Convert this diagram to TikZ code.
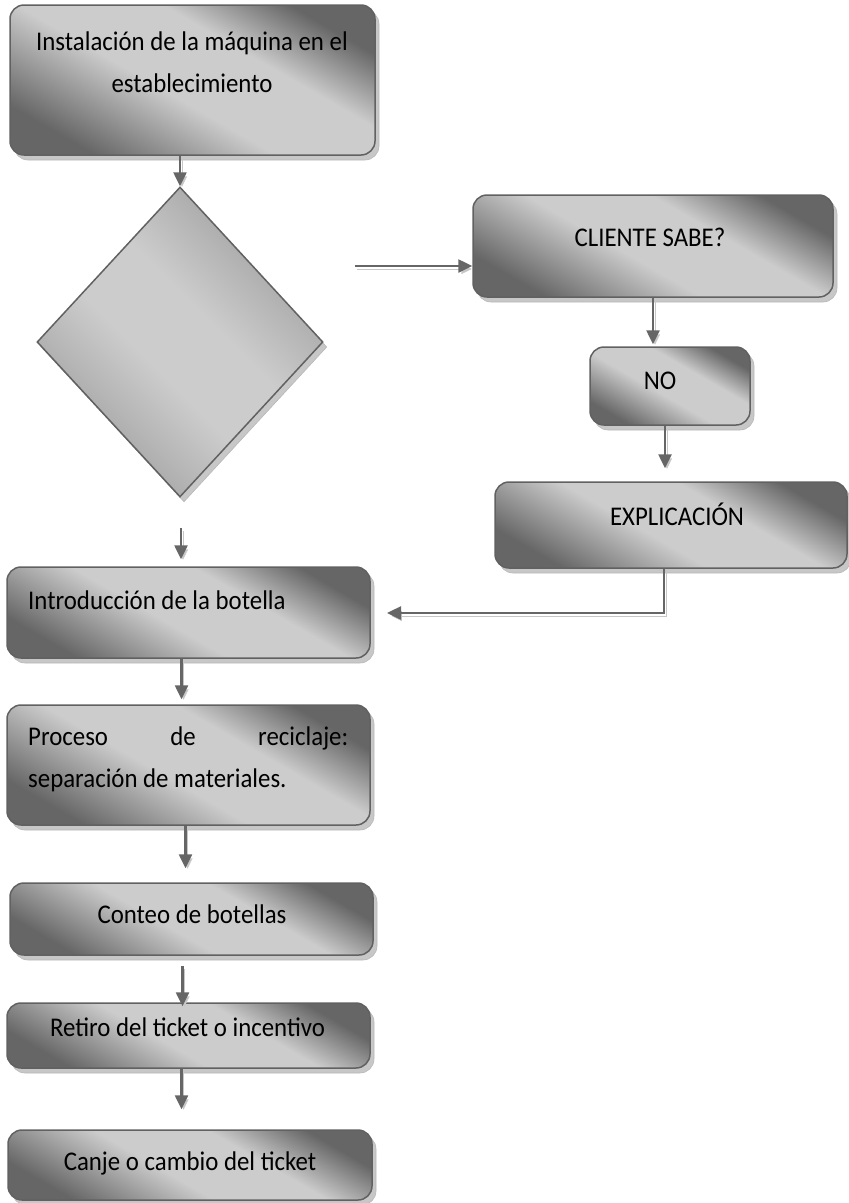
\documentclass[tikz,border=0pt]{standalone}
\usepackage{fontspec}
\setmainfont{Carlito}[FakeStretch=0.92]
\usetikzlibrary{shapes.geometric,arrows.meta,shadows}

\definecolor{boxdark}{gray}{0.40}
\definecolor{boxlight}{gray}{0.80}
\definecolor{diadark}{gray}{0.62}
\definecolor{edgegray}{gray}{0.38}

% diagonal bands: dark corners, broad light middle
\pgfdeclarehorizontalshading{boxshade}{100bp}{color(0bp)=(boxdark); color(25bp)=(boxdark);
  color(45bp)=(boxlight); color(61bp)=(boxlight); color(75bp)=(boxdark); color(100bp)=(boxdark)}
\pgfdeclarehorizontalshading{diashade}{100bp}{color(0bp)=(diadark); color(25bp)=(diadark);
  color(44bp)=(boxlight); color(56bp)=(boxlight); color(75bp)=(diadark); color(100bp)=(diadark)}

\tikzset{
  boxshadow/.style={general shadow={fill=black!22, draw=black!28, line width=0.6pt, shadow xshift=4pt, shadow yshift=-5pt}},
  stepbox/.style={draw=edgegray, line width=1.5pt, rounded corners=14pt,
    shade, shading=boxshade, shading angle=60, inner sep=0pt, boxshadow},
  decision/.style={shape=diamond, draw=edgegray, line width=1.5pt,
    shade, shading=diashade, shading angle=45, inner sep=0pt, boxshadow},
  boxtext/.style={font=\fontsize{27}{42}\selectfont, inner sep=0pt, text=black},
  flow/.style={draw=black!60, line width=2.5pt, -{Triangle[length=14pt,width=13pt]},
    preaction={draw=black!22, transform canvas={xshift=2pt,yshift=-3pt}}}
}

\begin{document}
\begin{tikzpicture}[x=1pt,y=-1pt]
\useasboundingbox (0,0) rectangle (849,1203);

% process boxes and the decision
\node[stepbox, minimum width=365pt, minimum height=150pt] (b1) at (192.5,80) {};
\node[decision, minimum width=286pt, minimum height=310pt] (dia) at (180,342) {};
\node[stepbox, minimum width=360pt, minimum height=102pt] (cli) at (653,246) {};
\node[stepbox, minimum width=160pt, minimum height=78pt] (no) at (670,386) {};
\node[stepbox, minimum width=352pt, minimum height=86pt] (expl) at (671,525) {};
\node[stepbox, minimum width=363pt, minimum height=91pt] (intro) at (188.5,612.5) {};
\node[stepbox, minimum width=363pt, minimum height=120pt] (proc) at (188.5,765) {};
\node[stepbox, minimum width=363pt, minimum height=72pt] (cont) at (191.5,919) {};
\node[stepbox, minimum width=363pt, minimum height=65pt] (retiro) at (188.5,1035.5) {};
\node[stepbox, minimum width=364pt, minimum height=70pt] (canje) at (190,1165) {};

% texts (multi-line texts are placed by the baseline of their last line)
\node[boxtext, align=center, anchor=base] at (192,92) {Instalación de la máquina en el\\establecimiento};
\node[boxtext, anchor=base] at (650,246) {CLIENTE SABE?};
\node[boxtext, anchor=base] at (660,389) {NO};
\node[boxtext, anchor=base] at (677,525) {EXPLICACIÓN};
\node[boxtext, anchor=base west] at (28,609) {Introducción de la botella};
\node[boxtext, align=left, anchor=base west] at (28,787) {\makebox[320pt][s]{Proceso de reciclaje:}\\separación de materiales.};
\node[boxtext, anchor=base] at (192,923) {Conteo de botellas};
\node[boxtext, anchor=base] at (187.5,1036) {Retiro del ticket o incentivo};
\node[boxtext, anchor=base] at (190,1170) {Canje o cambio del ticket};

% free connector ends
\coordinate (dout) at (355,266);
\coordinate (din) at (181,528);
\coordinate (ret) at (387,613);

% connectors
\draw[flow] (b1.south -| dia.north) -- (dia.north);
\draw[flow] (dout) -- (dout -| cli.west);
\draw[flow, shorten >=2pt] (cli.south) -- (cli.south |- no.north);
\draw[flow, shorten >=13pt] ([xshift=-5pt]no.south) -- ([xshift=-5pt]no.south |- expl.north);
\draw[flow] ([xshift=-7pt]expl.south) |- (ret);
\draw[flow, shorten >=7pt] (din) -- (din |- intro.north);
\draw[flow, shorten >=5pt] ([xshift=-7pt]intro.south) -- ([xshift=-7pt]intro.south |- proc.north);
\draw[flow, shorten >=14pt] ([xshift=-3pt]proc.south) -- ([xshift=-3pt]proc.south |- cont.north);
\draw[flow, shorten <=10pt, shorten >=-4pt] ([xshift=-9pt]cont.south) -- ([xshift=-9pt]cont.south |- retiro.north);
\draw[flow, shorten >=20pt] ([xshift=-7pt]retiro.south) -- ([xshift=-7pt]retiro.south |- canje.north);
\end{tikzpicture}
\end{document}
